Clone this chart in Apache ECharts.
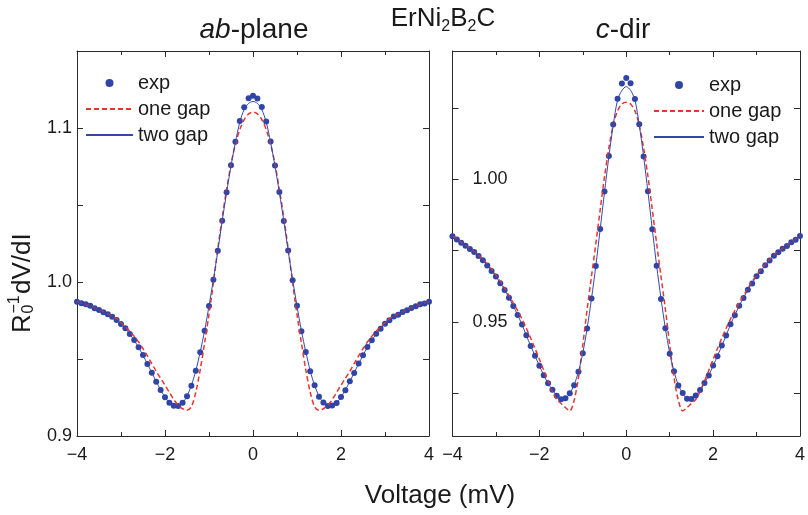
<!DOCTYPE html>
<html><head><meta charset="utf-8">
<script src="https://cdn.jsdelivr.net/npm/echarts@6/dist/echarts.min.js"></script>
<style>html,body{margin:0;padding:0;background:#fff}#c{width:808px;height:515px}</style>
</head><body><div id="c"></div>
<script>
// ---- data ----
const voltage = [-4.0,-3.9,-3.8,-3.7,-3.6,-3.5,-3.4,-3.3,-3.2,-3.1,
 -3.0,-2.9,-2.8,-2.7,-2.6,-2.5,-2.4,-2.3,-2.2,-2.1,
 -2.0,-1.9,-1.8,-1.7,-1.6,-1.5,-1.4,-1.3,-1.2,-1.1,
 -1.0,-0.9,-0.8,-0.7,-0.6,-0.5,-0.4,-0.3,-0.2,-0.1,
 0.0,
 0.1,0.2,0.3,0.4,0.5,0.6,0.7,0.8,0.9,1.0,
 1.1,1.2,1.3,1.4,1.5,1.6,1.7,1.8,1.9,2.0,
 2.1,2.2,2.3,2.4,2.5,2.6,2.7,2.8,2.9,3.0,
 3.1,3.2,3.3,3.4,3.5,3.6,3.7,3.8,3.9,4.0];

// ab-plane
const abExp = [0.9872,0.9862,0.9855,0.9845,0.9830,0.9818,0.9803,0.9790,0.9774,0.9753,
 0.9727,0.9699,0.9662,0.9623,0.9576,0.9526,0.9468,0.9411,0.9353,0.9299,
 0.9251,0.9216,0.9197,0.9195,0.9216,0.9258,0.9327,0.9423,0.9544,0.9683,
 0.9844,1.0015,1.0203,1.0398,1.0582,1.0758,1.0911,1.1045,1.1134,1.1193,
 1.1210,
 1.1192,1.1136,1.1043,1.0913,1.0756,1.0584,1.0396,1.0205,1.0012,0.9846,
 0.9680,0.9546,0.9420,0.9329,0.9255,0.9218,0.9194,0.9198,0.9214,0.9253,
 0.9297,0.9355,0.9409,0.9470,0.9524,0.9578,0.9621,0.9664,0.9697,0.9729,
 0.9751,0.9776,0.9788,0.9805,0.9816,0.9831,0.9843,0.9856,0.9861,0.9872];
const abOneGap = [0.9872,0.9863,0.9854,0.9844,0.9832,0.9819,0.9806,0.9792,0.9778,0.9761,
 0.9735,0.9710,0.9680,0.9647,0.9610,0.9567,0.9520,0.9470,0.9420,0.9375,
 0.9330,0.9283,0.9237,0.9200,0.9177,0.9167,0.9190,0.9285,0.9430,0.9605,
 0.9790,0.9995,1.0215,1.0420,1.0600,1.0765,1.0895,1.0990,1.1055,1.1092,
 1.1103,
 1.1092,1.1055,1.0990,1.0895,1.0765,1.0600,1.0420,1.0215,0.9995,0.9790,
 0.9605,0.9430,0.9285,0.9190,0.9167,0.9177,0.9200,0.9237,0.9283,0.9330,
 0.9375,0.9420,0.9470,0.9520,0.9567,0.9610,0.9647,0.9680,0.9710,0.9735,
 0.9761,0.9778,0.9792,0.9806,0.9819,0.9832,0.9844,0.9854,0.9863,0.9872];
const abTwoGap = [0.9872,0.9863,0.9854,0.9844,0.9831,0.9818,0.9804,0.9789,0.9773,0.9753,
 0.9728,0.9698,0.9662,0.9621,0.9575,0.9524,0.9469,0.9411,0.9354,0.9300,
 0.9252,0.9216,0.9198,0.9196,0.9215,0.9259,0.9328,0.9424,0.9545,0.9684,
 0.9845,1.0016,1.0202,1.0396,1.0580,1.0753,1.0907,1.1038,1.1120,1.1160,
 1.1172,
 1.1160,1.1120,1.1038,1.0907,1.0753,1.0580,1.0396,1.0202,1.0016,0.9845,
 0.9684,0.9545,0.9424,0.9328,0.9259,0.9215,0.9196,0.9198,0.9216,0.9252,
 0.9300,0.9354,0.9411,0.9469,0.9524,0.9575,0.9621,0.9662,0.9698,0.9728,
 0.9753,0.9773,0.9789,0.9804,0.9818,0.9831,0.9844,0.9854,0.9863,0.9872];

// c-dir
const cExp = [0.9800,0.9789,0.9778,0.9767,0.9756,0.9745,0.9731,0.9716,0.9698,0.9679,
 0.9659,0.9636,0.9612,0.9585,0.9556,0.9524,0.9491,0.9453,0.9416,0.9381,
 0.9346,0.9313,0.9285,0.9262,0.9241,0.9229,0.9232,0.9250,0.9278,0.9325,
 0.9390,0.9477,0.9582,0.9696,0.9826,0.9957,1.0082,1.0192,1.0283,1.0336,
 1.0355,
 1.0337,1.0282,1.0193,1.0080,0.9958,0.9825,0.9697,0.9580,0.9478,0.9388,
 0.9327,0.9277,0.9251,0.9231,0.9230,0.9242,0.9261,0.9286,0.9312,0.9347,
 0.9380,0.9417,0.9452,0.9492,0.9523,0.9557,0.9584,0.9613,0.9635,0.9660,
 0.9678,0.9699,0.9715,0.9732,0.9744,0.9757,0.9766,0.9779,0.9788,0.9801];
const cOneGap = [0.9801,0.9790,0.9779,0.9768,0.9757,0.9746,0.9733,0.9719,0.9702,0.9684,
 0.9664,0.9642,0.9618,0.9592,0.9566,0.9540,0.9510,0.9478,0.9443,0.9407,
 0.9369,0.9330,0.9292,0.9256,0.9228,0.9214,0.9200,0.9188,0.9225,0.9305,
 0.9420,0.9545,0.9660,0.9775,0.9893,1.0010,1.0110,1.0190,1.0240,1.0264,
 1.0270,
 1.0264,1.0240,1.0190,1.0110,1.0010,0.9893,0.9775,0.9660,0.9545,0.9420,
 0.9305,0.9225,0.9188,0.9200,0.9214,0.9228,0.9256,0.9292,0.9330,0.9369,
 0.9407,0.9443,0.9478,0.9510,0.9540,0.9566,0.9592,0.9618,0.9642,0.9664,
 0.9684,0.9702,0.9719,0.9733,0.9746,0.9757,0.9768,0.9779,0.9790,0.9801];
const cTwoGap = [0.9800,0.9789,0.9778,0.9767,0.9756,0.9745,0.9731,0.9716,0.9698,0.9679,
 0.9659,0.9636,0.9612,0.9585,0.9556,0.9524,0.9491,0.9453,0.9416,0.9381,
 0.9346,0.9313,0.9285,0.9262,0.9242,0.9231,0.9232,0.9249,0.9279,0.9326,
 0.9391,0.9478,0.9582,0.9697,0.9825,0.9955,1.0080,1.0190,1.0278,1.0312,
 1.0325,
 1.0312,1.0278,1.0190,1.0080,0.9955,0.9825,0.9697,0.9582,0.9478,0.9391,
 0.9326,0.9279,0.9249,0.9232,0.9231,0.9242,0.9262,0.9285,0.9313,0.9346,
 0.9381,0.9416,0.9453,0.9491,0.9524,0.9556,0.9585,0.9612,0.9636,0.9659,
 0.9679,0.9698,0.9716,0.9731,0.9745,0.9756,0.9767,0.9778,0.9789,0.9800];

// tick values
const xMin = -4, xMax = 4, xStep = 2;
const abYTicks = [0.9, 0.95, 1.0, 1.05, 1.1];
const abYLabels = [0.9, 1.0, 1.1];
const cYTicks = [0.925, 0.95, 0.975, 1.0, 1.025];
const cYLabels = [0.95, 1.0];
const seriesNames = ['exp', 'one gap', 'two gap'];

// ---- styling ----
const FONT = '"Liberation Sans", Arial, Helvetica, sans-serif';
const INK = '#1a1a1a';
const AXIS = '#2a2a2a';
const BLUE_DOT = '#2f44a6';
const RED = '#e8352c';
const BLUE_LINE = '#3348ad';

const chart = echarts.init(document.getElementById('c'), null, {renderer: 'canvas'});
const pairs = ys => voltage.map((v, i) => [v, ys[i]]);
const xFmt = v => (v < 0 ? '\u2212' + Math.abs(v) : String(v));

function xAxesFor(g) {
  const base = {
    gridIndex: g, type: 'value', min: xMin, max: xMax, interval: xStep,
    axisLine: {show: true, onZero: false, lineStyle: {color: AXIS, width: 1}},
    axisTick: {show: true, inside: true, length: 6, lineStyle: {color: AXIS}},
    minorTick: {show: true, splitNumber: 2, length: 4, lineStyle: {color: AXIS}},
    splitLine: {show: false}, minorSplitLine: {show: false}
  };
  return [
    Object.assign({}, base, {position: 'bottom',
      axisLabel: {show: true, formatter: xFmt, fontFamily: FONT, fontSize: 18, color: INK, margin: 10}}),
    Object.assign({}, base, {position: 'top', axisLabel: {show: false}})
  ];
}
function yAxesFor(g, min, max, ticks, labels, fmt, inside, margin) {
  const base = {
    gridIndex: g, type: 'value', min: min, max: max,
    axisLine: {show: true, onZero: false, lineStyle: {color: AXIS, width: 1}},
    axisTick: {show: true, inside: true, length: 6, customValues: ticks, lineStyle: {color: AXIS}},
    splitLine: {show: false}
  };
  return [
    Object.assign({}, base, {position: 'left',
      axisLabel: {show: true, inside: inside, customValues: labels, formatter: v => v.toFixed(fmt),
        fontFamily: FONT, fontSize: 18, color: INK, margin: margin}}),
    Object.assign({}, base, {position: 'right', axisLabel: {show: false}})
  ];
}

function panelSeries(g, exp, one, two) {
  return [
    {name: seriesNames[0], type: 'scatter', xAxisIndex: 2 * g, yAxisIndex: 2 * g,
     data: pairs(exp), symbol: 'circle', symbolSize: 6, itemStyle: {color: BLUE_DOT, opacity: 1}, z: 2},
    {name: seriesNames[1], type: 'line', xAxisIndex: 2 * g, yAxisIndex: 2 * g,
     data: pairs(one), symbol: 'none', smooth: 0.3,
     lineStyle: {color: RED, width: 1.5, type: [5, 3]}, itemStyle: {color: RED}, z: 3},
    {name: seriesNames[2], type: 'line', xAxisIndex: 2 * g, yAxisIndex: 2 * g,
     data: pairs(two), symbol: 'none', smooth: 0.3,
     lineStyle: {color: BLUE_LINE, width: 1}, itemStyle: {color: BLUE_LINE}, z: 4}
  ];
}

function legendAt(left, top, w) {
  return {
    data: [
      {name: 'exp', icon: 'circle', itemStyle: {color: BLUE_DOT, opacity: 1}},
      {name: 'one gap', itemStyle: {opacity: 0}},
      {name: 'two gap', itemStyle: {opacity: 0}}
    ],
    orient: 'vertical', left: left, top: top, padding: 0,
    itemWidth: w, itemHeight: 8, itemGap: 6, selectedMode: false,
    textStyle: {fontFamily: FONT, fontSize: 20, color: INK}
  };
}

const option = {
  animation: false,
  backgroundColor: '#fff',
  grid: [
    {left: 77, top: 51, width: 352, height: 385, containLabel: false},
    {left: 452.5, top: 51, width: 352.5, height: 385, containLabel: false}
  ],
  xAxis: [...xAxesFor(0), ...xAxesFor(1)],
  yAxis: [
    ...yAxesFor(0, 0.9, 1.15, abYTicks, abYLabels, 1, false, 5),
    ...yAxesFor(1, 0.91, 1.045, cYTicks, cYLabels, 2, true, 20)
  ],
  legend: [legendAt(85, 73, 47), legendAt(653, 75, 50)],
  series: [...panelSeries(0, abExp, abOneGap, abTwoGap), ...panelSeries(1, cExp, cOneGap, cTwoGap)],
  graphic: [
    {type: 'text', x: 443, y: 19, style: {
      text: '{a|ErNi}{s|2}{a|B}{s|2}{a|C}', align: 'center', verticalAlign: 'middle',
      rich: {a: {fontFamily: FONT, fontSize: 26, lineHeight: 32, fill: INK, verticalAlign: 'middle'},
             s: {fontFamily: FONT, fontSize: 16, lineHeight: 16, fill: INK, verticalAlign: 'bottom'}}}},
    {type: 'text', x: 254, y: 30, style: {
      text: '{i|ab}{n|-plane}', align: 'center', verticalAlign: 'middle',
      rich: {i: {fontFamily: FONT, fontSize: 28, fontStyle: 'italic', fill: INK},
             n: {fontFamily: FONT, fontSize: 28, fill: INK}}}},
    {type: 'text', x: 623, y: 30, style: {
      text: '{i|c}{n|-dir}', align: 'center', verticalAlign: 'middle',
      rich: {i: {fontFamily: FONT, fontSize: 28, fontStyle: 'italic', fill: INK},
             n: {fontFamily: FONT, fontSize: 28, fill: INK}}}},
    {type: 'text', x: 440, y: 496, style: {
      text: 'Voltage (mV)', align: 'center', verticalAlign: 'middle',
      fontFamily: FONT, fontSize: 26, fill: INK}},
    {type: 'group', x: 32, y: 333, rotation: Math.PI / 2, children: [
      {type: 'text', x: 0, y: -9, style: {text: 'R', fontFamily: FONT, fontSize: 26, fill: INK, align: 'left', verticalAlign: 'middle'}},
      {type: 'text', x: 19.5, y: -3.6, style: {text: '0', fontFamily: FONT, fontSize: 16, fill: INK, align: 'left', verticalAlign: 'middle'}},
      {type: 'text', x: 19.5, y: -17.6, style: {text: '\u22121', fontFamily: FONT, fontSize: 16, fill: INK, align: 'left', verticalAlign: 'middle'}},
      {type: 'text', x: 39, y: -9, style: {text: 'dV/dI', fontFamily: FONT, fontSize: 26, fill: INK, align: 'left', verticalAlign: 'middle'}}
    ]}
  ]
};
chart.setOption(option);
</script>
</body></html>
